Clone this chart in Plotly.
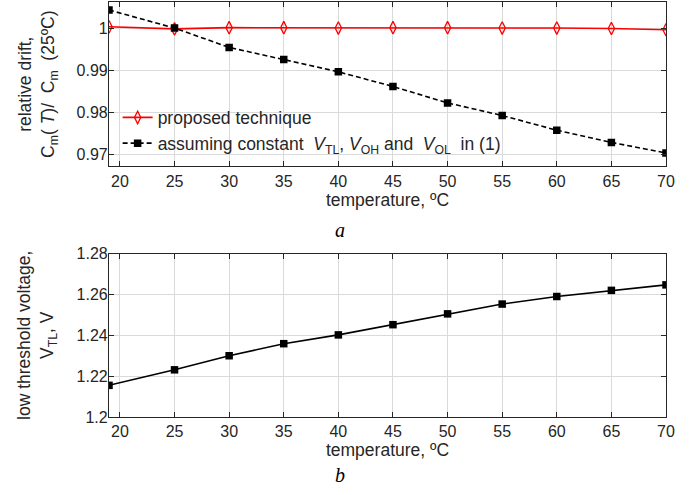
import plotly.graph_objects as go

temperature = [19, 25, 30, 35, 40, 45, 50, 55, 60, 65, 70]
drift_proposed = [1.0003, 0.9998, 1.0001, 1.0001, 1.0000, 1.0001, 1.0001, 1.0000, 1.0000, 0.9999, 0.9996]
drift_constant = [1.0043, 1.0000, 0.9954, 0.9925, 0.9896, 0.9861, 0.9822, 0.9792, 0.9757, 0.9728, 0.9703]
v_tl = [1.2155, 1.2231, 1.2300, 1.2359, 1.2402, 1.2452, 1.2505, 1.2553, 1.2590, 1.2620, 1.2647]

x_ticks = [20, 25, 30, 35, 40, 45, 50, 55, 60, 65, 70]
top_ticks = [0.97, 0.98, 0.99, 1.0]
top_ticktext = ["0.97", "0.98", "0.99", "1"]
bot_ticks = [1.2, 1.22, 1.24, 1.26, 1.28]
bot_ticktext = ["1.2", "1.22", "1.24", "1.26", "1.28"]

FONT = "Arial, 'Liberation Sans', sans-serif"
TXT = "#262626"
GRID = "#dadada"

fig = go.Figure()
fig.add_trace(go.Scatter(
    x=temperature, y=drift_proposed, mode="lines+markers",
    name="proposed technique",
    line=dict(color="#ff0000", width=1.6),
    marker=dict(symbol="diamond-tall-open", size=9, color="#ff0000", line=dict(width=1.3)),
    xaxis="x", yaxis="y"))
fig.add_trace(go.Scatter(
    x=temperature, y=drift_constant, mode="lines+markers",
    name="assuming constant  <i>V</i><sub>TL</sub>, <i>V</i><sub>OH</sub> and  <i>V</i><sub>OL</sub>  in (1)",
    line=dict(color="#000000", width=1.6, dash="5px,3px"),
    marker=dict(symbol="square", size=7.5, color="#000000"),
    xaxis="x", yaxis="y"))
fig.add_trace(go.Scatter(
    x=temperature, y=v_tl, mode="lines+markers",
    showlegend=False,
    line=dict(color="#000000", width=1.6),
    marker=dict(symbol="square", size=7.5, color="#000000"),
    xaxis="x2", yaxis="y2"))

axis_common = dict(
    showline=True, linecolor=TXT, linewidth=1.2, mirror="ticks",
    ticks="inside", ticklen=5, tickcolor=TXT,
    showgrid=True, gridcolor=GRID, gridwidth=1, zeroline=False,
    tickfont=dict(family=FONT, size=16, color=TXT),
)

fig.update_layout(
    width=691, height=495,
    margin=dict(l=109, r=25, t=2, b=78, autoexpand=False),
    paper_bgcolor="white", plot_bgcolor="white",
    font=dict(family=FONT, color=TXT),
    xaxis=dict(domain=[0, 1], anchor="y", range=[19, 70], tickvals=x_ticks,
               title=dict(text="temperature, ºC", font=dict(size=17.5, color=TXT), standoff=4),
               **axis_common),
    yaxis=dict(domain=[0.6039, 1.0], anchor="x", range=[0.9671, 1.0062],
               tickvals=top_ticks, ticktext=top_ticktext, ticklabelstandoff=-3,
               title=dict(text="relative drift,<br>C<sub>m</sub>( <i>T</i>)/  C<sub>m</sub>  (25ºC)",
                          font=dict(size=17.5, color=TXT), standoff=17),
               **axis_common),
    xaxis2=dict(domain=[0, 1], anchor="y2", range=[19, 70], tickvals=x_ticks,
                title=dict(text="temperature, ºC", font=dict(size=17.5, color=TXT), standoff=4),
                **axis_common),
    yaxis2=dict(domain=[0, 0.3937], anchor="x2", range=[1.2, 1.28],
                tickvals=bot_ticks, ticktext=bot_ticktext, ticklabelstandoff=-3,
                title=dict(text="low threshold voltage,<br>V<sub>TL</sub>, V",
                           font=dict(size=17.5, color=TXT), standoff=18),
                **axis_common),
    legend=dict(x=0.0155, y=0.765, xanchor="left", yanchor="top",
                bgcolor="rgba(0,0,0,0)", font=dict(family=FONT, size=17.5, color=TXT),
                itemwidth=30, tracegroupgap=0),
    showlegend=True,
)

SERIF = "'Liberation Serif', 'Times New Roman', serif"
fig.add_annotation(text="<i>a</i>", x=(340 - 109) / 557, y=(417 - 230) / 414,
                   xref="paper", yref="paper", showarrow=False,
                   font=dict(family=SERIF, size=20, color="#000"))
fig.add_annotation(text="<i>b</i>", x=(340 - 109) / 557, y=(417 - 488) / 414,
                   xref="paper", yref="paper", showarrow=False,
                   font=dict(family=SERIF, size=20, color="#000"))

fig.write_html("out.html", config={"displayModeBar": False},
               post_script="document.body.style.margin='0';document.body.style.padding='0';")
